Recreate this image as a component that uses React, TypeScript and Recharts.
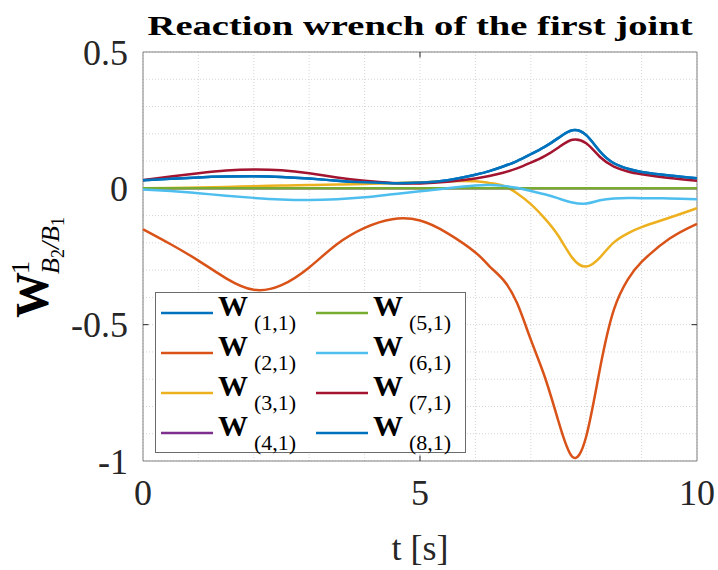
import { LineChart, Line, XAxis, YAxis, CartesianGrid, Legend, ReferenceArea, ReferenceLine } from "recharts";

const time = [0, 0.5, 1, 1.5, 2, 2.5, 3, 3.5, 4, 4.5, 5, 5.5, 6, 6.25, 6.5, 6.75, 7, 7.25, 7.5, 7.75, 8, 8.25, 8.5, 8.75, 9, 9.5, 10];

const w11 = [0.03, 0.035, 0.04, 0.043, 0.044, 0.042, 0.036, 0.028, 0.022, 0.019, 0.021, 0.03, 0.05, 0.063, 0.08, 0.1, 0.125, 0.152, 0.185, 0.213, 0.195, 0.135, 0.092, 0.072, 0.06, 0.047, 0.037];
const w21 = [-0.15, -0.205, -0.265, -0.33, -0.372, -0.355, -0.29, -0.205, -0.145, -0.113, -0.118, -0.165, -0.235, -0.285, -0.335, -0.42, -0.555, -0.69, -0.855, -0.985, -0.91, -0.66, -0.445, -0.335, -0.27, -0.185, -0.13];
const w31 = [0, 0.001, 0.003, 0.005, 0.008, 0.01, 0.012, 0.014, 0.016, 0.019, 0.022, 0.026, 0.026, 0.02, 0.01, -0.018, -0.058, -0.11, -0.175, -0.255, -0.287, -0.253, -0.198, -0.165, -0.142, -0.108, -0.073];
const w41 = [0, 0, 0, 0, 0, 0, 0, 0, 0, 0, 0, 0, 0, 0, 0, 0, 0, 0, 0, 0, 0, 0, 0, 0, 0, 0, 0];
const w51 = [0, 0, 0, 0, 0, 0, 0, 0, 0, 0, 0, 0, 0, 0, 0, 0, 0, 0, 0, 0, 0, 0, 0, 0, 0, 0, 0];
const w61 = [-0.004, -0.01, -0.018, -0.027, -0.035, -0.041, -0.043, -0.04, -0.033, -0.022, -0.011, 0, 0.01, 0.012, 0.009, 0.002, -0.01, -0.022, -0.037, -0.052, -0.056, -0.044, -0.037, -0.035, -0.036, -0.037, -0.04];
const w71 = [0.03, 0.043, 0.055, 0.065, 0.069, 0.066, 0.055, 0.04, 0.028, 0.02, 0.018, 0.024, 0.036, 0.045, 0.057, 0.073, 0.094, 0.118, 0.15, 0.178, 0.165, 0.115, 0.08, 0.062, 0.052, 0.038, 0.028];
const w81 = [0.03, 0.035, 0.04, 0.043, 0.044, 0.042, 0.036, 0.028, 0.022, 0.019, 0.021, 0.03, 0.05, 0.063, 0.08, 0.1, 0.125, 0.152, 0.185, 0.213, 0.195, 0.135, 0.092, 0.072, 0.06, 0.047, 0.037];

const xTicks = [0, 1, 2, 3, 4, 5, 6, 7, 8, 9, 10];
const xLabels = ["0", "", "", "", "", "5", "", "", "", "", "10"];
const yTicks = [-1, -0.9, -0.8, -0.7, -0.6, -0.5, -0.4, -0.3, -0.2, -0.1, 0, 0.1, 0.2, 0.3, 0.4, 0.5];
const yLabels = ["-1", "", "", "", "", "-0.5", "", "", "", "", "0", "", "", "", "", "0.5"];

const series = [
	{ key: "w11", name: "(1,1)", color: "#0072BD", values: w11 },
	{ key: "w21", name: "(2,1)", color: "#D95319", values: w21 },
	{ key: "w31", name: "(3,1)", color: "#EDB120", values: w31 },
	{ key: "w41", name: "(4,1)", color: "#7E2F8E", values: w41 },
	{ key: "w51", name: "(5,1)", color: "#77AC30", values: w51 },
	{ key: "w61", name: "(6,1)", color: "#4DBEEE", values: w61 },
	{ key: "w71", name: "(7,1)", color: "#A2142F", values: w71 },
	{ key: "w81", name: "(8,1)", color: "#0072BD", values: w81 },
];

const data = time.map((t, i) => {
	const row: Record<string, number> = { t };
	series.forEach((s) => (row[s.key] = s.values[i]));
	return row;
});

const serif = "Liberation Serif, Times New Roman, Times, serif";
const ink = "#262626";

const labelOf = (ticks: number[], labels: string[]) => (v: number) => {
	const i = ticks.findIndex((x) => Math.abs(x - v) < 1e-9);
	return i >= 0 ? labels[i] : "";
};

// legend drawn in an svg with a 10px margin so glyphs are not clipped
const pad = 10;
const LegendBox = () => (
	<svg width={311 + 2 * pad} height={161 + 2 * pad} style={{ display: "block" }}>
		<g transform={`translate(${pad},${pad})`}>
			<rect x={0.5} y={0.5} width={310} height={160} fill="#fff" stroke="#6b6b6b" />
			{series.map((s, i) => {
				const col = Math.floor(i / 4);
				const row = i % 4;
				const x0 = 6 + 155 * col;
				const cy = 21 + 40 * row;
				return (
					<g key={s.key}>
						<line x1={x0} x2={x0 + 52} y1={cy} y2={cy} stroke={s.color} strokeWidth={2.5} />
						<text x={x0 + 57} y={cy + 3} fontFamily={serif} fontWeight="bold" fontSize={30} fill="#000">
							W
						</text>
						<text x={x0 + 93} y={cy + 17} fontFamily={serif} fontSize={22} fill="#000">
							{s.name}
						</text>
					</g>
				);
			})}
		</g>
	</svg>
);

const App = () => {
	return (
		<div style={{ position: "fixed", left: 0, top: 0, width: 718, height: 570, background: "#fff" }}>
			<LineChart width={718} height={570} data={data} margin={{ top: 52, right: 21, bottom: 0, left: 0 }}>
				<CartesianGrid stroke="#d6d6d6" strokeDasharray="1 2" />
				<XAxis
					dataKey="t"
					type="number"
					domain={[0, 10]}
					ticks={xTicks}
					interval={0}
					tickFormatter={labelOf(xTicks, xLabels)}
					height={109}
					axisLine={false}
					tickLine={false}
					tickSize={16}
					tick={{ fontFamily: serif, fontSize: 36, fill: ink }}
				/>
				<YAxis
					type="number"
					domain={[-1, 0.5]}
					ticks={yTicks}
					interval={0}
					tickFormatter={labelOf(yTicks, yLabels)}
					width={143}
					axisLine={false}
					tickLine={false}
					tickSize={13}
					tick={{ fontFamily: serif, fontSize: 36, fill: ink }}
				/>
				<ReferenceArea x1={0} x2={10} y1={-1} y2={0.5} fill="none" stroke="#808080" strokeWidth={1} />
				<ReferenceLine segment={[{ x: 0, y: 0 }, { x: 0.1, y: 0 }]} stroke={ink} />
				<ReferenceLine segment={[{ x: 0, y: -0.5 }, { x: 0.1, y: -0.5 }]} stroke={ink} />
				<ReferenceLine segment={[{ x: 9.9, y: 0 }, { x: 10, y: 0 }]} stroke={ink} />
				<ReferenceLine segment={[{ x: 9.9, y: -0.5 }, { x: 10, y: -0.5 }]} stroke={ink} />
				<ReferenceLine segment={[{ x: 5, y: 0.5 }, { x: 5, y: 0.48 }]} stroke={ink} />
				<ReferenceLine segment={[{ x: 5, y: -1 }, { x: 5, y: -0.98 }]} stroke={ink} />
				{series.map((s) => (
					<Line
						key={s.key}
						type="natural"
						dataKey={s.key}
						name={s.name}
						stroke={s.color}
						strokeWidth={2.5}
						dot={false}
						activeDot={false}
						isAnimationActive={false}
					/>
				))}
				<Legend
					layout="vertical"
					align="center"
					verticalAlign="middle"
					content={() => <LegendBox />}
					wrapperStyle={{ position: "absolute", left: 155 - pad, top: 292 - pad, width: 311 + 2 * pad, height: 161 + 2 * pad }}
				/>
			</LineChart>
			<svg width={718} height={570} style={{ position: "absolute", left: 0, top: 0, pointerEvents: "none" }}>
				<text x={420} y={35} textAnchor="middle" fontFamily={serif} fontWeight="bold" fontSize={27} fill="#000" textLength={545} lengthAdjust="spacingAndGlyphs">
					Reaction wrench of the first joint
				</text>
				<text x={420} y={560} textAnchor="middle" fontFamily={serif} fontSize={36} fill={ink}>
					t [s]
				</text>
				<text transform="translate(48,318) rotate(-90)" fontFamily={serif} fill="#000">
					<tspan fontWeight="bold" fontSize={46}>W</tspan>
					<tspan x={44} dy={-19} fontSize={26}>1</tspan>
					<tspan x={44} dy={30} fontSize={26} fontStyle="italic">B</tspan>
					<tspan dy={5} fontSize={18}>2</tspan>
					<tspan dy={-5} fontSize={26} fontStyle="italic">/B</tspan>
					<tspan dy={5} fontSize={18}>1</tspan>
				</text>
			</svg>
		</div>
	);
};

export default App;
